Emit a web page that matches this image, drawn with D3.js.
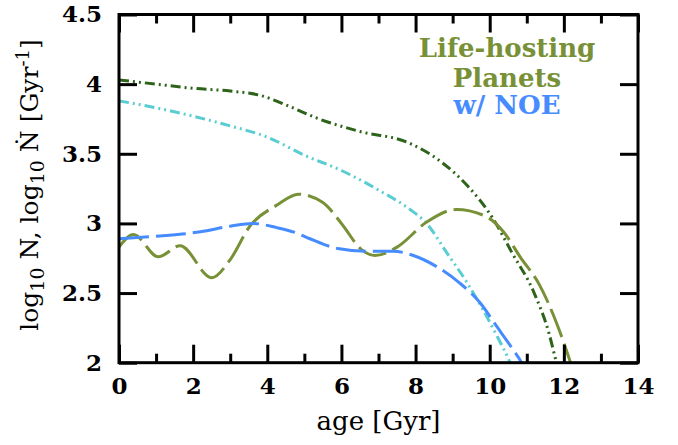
<!DOCTYPE html>
<html><head><meta charset="utf-8">
<script src="https://cdn.jsdelivr.net/npm/d3@7"></script>
<style>body{margin:0;background:#fff}</style>
</head><body>
<svg id="c" width="678" height="445"></svg>
<script>
// ---- data ----
const xTicksMajor = [0, 2, 4, 6, 8, 10, 12, 14];
const xTicksMinor = [1, 3, 5, 7, 9, 11, 13];
const yTicks = [2, 2.5, 3, 3.5, 4, 4.5];
const yTickLabels = ["2", "2.5", "3", "3.5", "4", "4.5"];

const darkAge = [0, 1, 2, 3, 3.8, 4.6, 5.3, 6.5, 7.8, 8.7, 9.4, 10.1, 10.6, 11.2, 11.6, 11.8, 11.9];
const darkVal = [4.03, 4.0, 3.97, 3.95, 3.92, 3.84, 3.76, 3.66, 3.58, 3.44, 3.27, 3.03, 2.79, 2.5, 2.21, 2.0, 1.9];

const cyanAge = [0, 1, 2, 3, 4, 5, 6, 7, 7.85, 8.3, 8.84, 9.4, 9.82, 10.2, 10.55, 10.7];
const cyanVal = [3.88, 3.83, 3.77, 3.70, 3.62, 3.49, 3.38, 3.24, 3.10, 3.0, 2.79, 2.57, 2.38, 2.19, 2.0, 1.9];

const oliveAge = [0, 0.39, 1.06, 1.65, 2.5, 3.0, 3.53, 4.25, 4.84, 5.5, 6.0, 6.55, 6.9, 7.5, 8.3, 9.1, 9.9, 10.37, 10.82, 11.36, 11.81, 12.18, 12.3];
const oliveVal = [2.83, 2.92, 2.76, 2.84, 2.61, 2.74, 2.98, 3.13, 3.21, 3.15, 3.0, 2.81, 2.77, 2.83, 3.01, 3.10, 3.05, 2.94, 2.76, 2.55, 2.28, 2.0, 1.9];

const blueAge = [0, 1.1, 2.2, 3.0, 3.6, 4.25, 4.8, 5.15, 5.9, 6.7, 7.4, 7.94, 8.57, 9.2, 9.74, 10.19, 10.64, 10.86, 11.0];
const blueVal = [2.89, 2.91, 2.94, 2.98, 3.0, 2.97, 2.93, 2.89, 2.82, 2.80, 2.80, 2.77, 2.69, 2.57, 2.43, 2.26, 2.09, 2.0, 1.92];

const legendLines = ["Life-hosting", "Planets", "w/ NOE"];

// ---- layout ----
const L = 119, R = 638, T = 14.5, B = 362.7;
const svg = d3.select("#c");
const x = d3.scaleLinear().domain([0, 14]).range([L, R]);
const y = d3.scaleLinear().domain([2, 4.5]).range([B, T]);

const C = {dark: "#2d6419", cyan: "#5acdd2", olive: "#789137", blue: "#468cff"};

svg.append("defs").append("clipPath").attr("id", "clip")
  .append("rect").attr("x", L).attr("y", T).attr("width", R - L).attr("height", B - T);

function series(ax, vals) { return ax.map((a, i) => [a, vals[i]]); }
const line = d3.line().x(d => x(d[0])).y(d => y(d[1])).curve(d3.curveMonotoneX);

const g = svg.append("g").attr("clip-path", "url(#clip)");
const sets = [
  [series(darkAge, darkVal), C.dark, "10,4,2,4,2,4"],
  [series(cyanAge, cyanVal), C.cyan, "10,4,2,4,2,4"],
  [series(oliveAge, oliveVal), C.olive, "30,7"],
  [series(blueAge, blueVal), C.blue, "30,7"]
];
sets.forEach(([d, c, dash]) => {
  g.append("path").datum(d).attr("d", line).attr("fill", "none")
    .attr("stroke", c).attr("stroke-width", 3).attr("stroke-dasharray", dash);
});

// ---- axes ----
const font = "'DejaVu Serif', serif";
function styleAxis(sel) {
  sel.select(".domain").remove();
  sel.selectAll("line").attr("stroke", "#000").attr("stroke-width", 3);
  sel.selectAll("text").attr("fill", "#000").style("font-family", font)
    .style("font-weight", "bold").style("font-size", "23px");
}
svg.append("g").attr("transform", `translate(0,${B})`)
  .call(d3.axisBottom(x).tickValues(xTicksMajor).tickSize(-18).tickPadding(15).tickFormat(d3.format("d")))
  .call(styleAxis);
svg.append("g").attr("transform", `translate(0,${B})`)
  .call(d3.axisBottom(x).tickValues(xTicksMinor).tickSize(-9).tickFormat(""))
  .call(styleAxis);
svg.append("g").attr("transform", `translate(0,${T})`)
  .call(d3.axisTop(x).tickValues(xTicksMajor).tickSize(-18).tickFormat(""))
  .call(styleAxis);
svg.append("g").attr("transform", `translate(0,${T})`)
  .call(d3.axisTop(x).tickValues(xTicksMinor).tickSize(-9).tickFormat(""))
  .call(styleAxis);
svg.append("g").attr("transform", `translate(${L},0)`)
  .call(d3.axisLeft(y).tickValues(yTicks).tickSize(-18).tickPadding(17).tickFormat((d, i) => yTickLabels[i]))
  .call(styleAxis);
svg.append("g").attr("transform", `translate(${R},0)`)
  .call(d3.axisRight(y).tickValues(yTicks).tickSize(-18).tickFormat(""))
  .call(styleAxis);

svg.append("rect").attr("x", L).attr("y", T).attr("width", R - L).attr("height", B - T)
  .attr("fill", "none").attr("stroke", "#000").attr("stroke-width", 3);

// ---- labels ----
svg.append("text").attr("x", (L + R) / 2).attr("y", 430).attr("text-anchor", "middle")
  .style("font-family", font).style("font-size", "26px").text("age [Gyr]");

const yl = svg.append("text").attr("transform", "translate(38,185) rotate(-90)")
  .attr("text-anchor", "middle").style("font-family", font).style("font-size", "25px");
yl.append("tspan").text("log");
yl.append("tspan").attr("dy", 6).style("font-size", "19px").text("10");
yl.append("tspan").attr("dy", -6).text(" N, log");
yl.append("tspan").attr("dy", 6).style("font-size", "19px").text("10");
yl.append("tspan").attr("dy", -6).text(" Ṅ [Gyr");
yl.append("tspan").attr("dy", -9).style("font-size", "18px").text("-1");
yl.append("tspan").attr("dy", 9).text("]");

// ---- legend ----
const legColors = [C.olive, C.olive, C.blue];
const legY = [56.5, 86.5, 114];
legendLines.forEach((t, i) => {
  svg.append("text").attr("x", 507).attr("y", legY[i]).attr("text-anchor", "middle")
    .style("font-family", font).style("font-weight", "bold").style("font-size", "26px")
    .attr("fill", legColors[i]).text(t);
});
</script>
</body></html>
